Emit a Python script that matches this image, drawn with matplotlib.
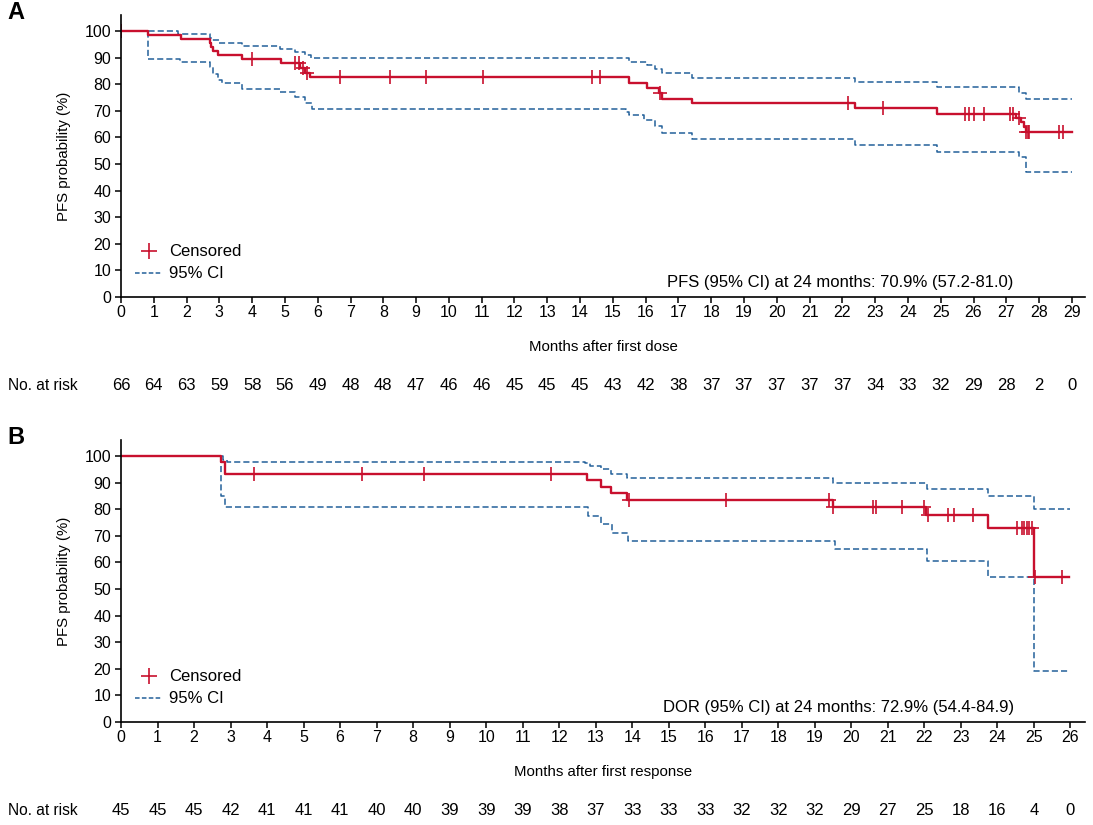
import matplotlib
matplotlib.use("Agg")
import matplotlib.pyplot as plt
from matplotlib.lines import Line2D
import numpy as np

RED = "#C8102E"
BLUE = "#23609A"
plt.rcParams["font.family"] = ["Liberation Sans", "DejaVu Sans"]

# Panel A: PFS after first dose
pfs_t = [0, 0.83, 1.83, 2.72, 2.76, 2.8, 2.97, 3.7, 4.87, 5.45, 5.6, 5.77, 15.5, 16.05,
         16.4, 16.5, 17.4, 22.4, 24.9, 27.3, 27.45, 27.55, 27.6, 29.0]
pfs_s = [100, 98.5, 97.0, 95.5, 93.9, 92.4, 90.9, 89.4, 87.9, 86.0, 84.3, 82.6, 80.5, 78.4,
         76.5, 74.6, 72.8, 70.9, 68.8, 67.2, 65.9, 63.8, 62.2, 62.2]
pfs_hi_t = [0, 1.75, 2.7, 2.78, 3.0, 3.68, 4.85, 5.3, 5.6, 5.8, 15.5, 16.05, 16.3, 16.5,
            17.4, 22.4, 24.9, 27.4, 27.6, 29.0]
pfs_hi_s = [100, 99.0, 97.5, 96.5, 95.5, 94.4, 93.4, 92.2, 90.9, 89.9, 88.3, 87.1, 85.8, 84.2,
            82.4, 81.0, 79.0, 76.8, 74.4, 74.4]
pfs_lo_t = [0, 0.83, 1.8, 2.7, 2.8, 2.95, 3.08, 3.7, 4.85, 5.3, 5.6, 5.83, 15.4, 15.5, 15.95,
            16.3, 16.5, 17.4, 22.4, 24.9, 27.4, 27.6, 29.0]
pfs_lo_s = [100, 89.4, 88.2, 86.6, 83.8, 81.6, 80.4, 78.2, 77.0, 75.0, 72.9, 70.7, 69.7, 68.4,
            66.4, 64.1, 61.8, 59.5, 57.2, 54.5, 52.6, 46.9, 46.9]
pfs_cens = [0, 4.0, 5.31, 5.42, 5.55, 5.68, 6.69, 8.19, 9.31, 11.03, 14.36, 14.6, 16.45,
            22.17, 23.25, 25.73, 25.85, 26.02, 26.33, 27.12, 27.2, 27.4, 27.6, 27.65, 27.7,
            28.6, 28.72]
pfs_risk = [66, 64, 63, 59, 58, 56, 49, 48, 48, 47, 46, 46, 45, 45, 45, 43, 42, 38, 37, 37,
            37, 37, 37, 34, 33, 32, 29, 28, 2, 0]

# Panel B: DOR after first response
dor_t = [0, 2.74, 2.86, 12.77, 13.14, 13.41, 13.87, 19.49, 22.05, 23.74, 25.01, 25.95]
dor_s = [100, 97.7, 93.3, 90.9, 88.4, 85.9, 83.4, 80.9, 77.7, 72.9, 54.6, 54.6]
dor_hi_t = [0, 2.8, 2.9, 12.7, 12.85, 13.15, 13.43, 13.87, 19.51, 22.07, 23.74, 25.0, 26.0]
dor_hi_s = [100, 98.5, 97.7, 97.2, 96.2, 95.0, 93.4, 91.8, 89.7, 87.7, 84.9, 79.9, 79.9]
dor_lo_t = [0, 2.73, 2.86, 12.79, 13.15, 13.45, 13.88, 19.54, 22.08, 23.74, 25.0, 26.0]
dor_lo_s = [100, 84.9, 80.8, 77.4, 74.3, 71.1, 68.0, 65.1, 60.7, 54.4, 19.0, 19.0]
dor_cens = [3.65, 6.6, 8.29, 11.77, 13.91, 16.57, 19.38, 19.49, 20.6, 20.68, 21.38, 21.98,
            22.1, 22.66, 22.8, 23.34, 24.53, 24.67, 24.74, 24.8, 24.88, 24.95, 25.03, 25.76]
dor_risk = [45, 45, 45, 42, 41, 41, 41, 40, 40, 39, 39, 39, 38, 37, 33, 33, 33, 32, 32, 32,
            29, 27, 25, 18, 16, 4, 0]


def level_at(t, s, x):
    """Value of the step curve (post) at times x."""
    idx = np.searchsorted(t, x, side="right") - 1
    return np.asarray(s)[idx]


def draw_panel(ax, t, s, hi_t, hi_s, lo_t, lo_s, cens, risk, xmax, xlabel, note, letter):
    ax.step(hi_t, hi_s, where="post", color=BLUE, lw=1.1, ls=(0, (4, 2)))
    ax.step(lo_t, lo_s, where="post", color=BLUE, lw=1.1, ls=(0, (4, 2)))
    ax.step(t, s, where="post", color=RED, lw=1.7)
    ax.plot(cens, level_at(t, s, cens), ls="none", marker="+", ms=10, mew=1.2, color=RED)

    ax.set_xlim(0, xmax + 0.4)
    ax.set_ylim(0, 106)
    ax.set_xticks(range(0, xmax + 1))
    ax.set_yticks(range(0, 101, 10))
    for side in ("top", "right"):
        ax.spines[side].set_visible(False)
    for side in ("left", "bottom"):
        ax.spines[side].set_linewidth(1.2)
    ax.tick_params(direction="out", length=4, width=1.1, labelsize=11.5, pad=3)
    ax.tick_params(axis="x", pad=2)

    ax.set_xlabel(xlabel, fontsize=10.8, labelpad=14)
    ax.set_ylabel("PFS probability (%)", fontsize=10.8, labelpad=10)

    handles = [
        Line2D([], [], color=RED, marker="+", ls="none", ms=11, mew=1.2),
        Line2D([], [], color=BLUE, lw=1.1, ls=(0, (3, 1.5))),
    ]
    ax.legend(handles, ["Censored", "95% CI"], loc="lower left",
              bbox_to_anchor=(0.0145, 0.055), frameon=False, fontsize=12,
              handlelength=1.65, handletextpad=0.38, labelspacing=0.42,
              borderpad=0, borderaxespad=0)

    ax.text(0.926, 0.052, note, transform=ax.transAxes, ha="right", va="center", fontsize=12)

    # risk table under the axis
    tr = ax.get_xaxis_transform()
    for i, n in enumerate(risk):
        ax.text(i, -0.315, str(n), transform=tr, ha="center", va="center", fontsize=12)
    fig = ax.figure
    pos = ax.get_position()
    y_fig = pos.y0 - 0.315 * pos.height
    fig.text(8 / 1093, y_fig, "No. at risk", ha="left", va="center", fontsize=11.2)
    fig.text(7 / 1093, pos.y1 + 0.003, letter, ha="left", va="center",
             fontsize=17, fontweight="bold")


fig = plt.figure(figsize=(10.93, 8.25), dpi=100)
ax_a = fig.add_axes([121 / 1093, 1 - 297 / 825, 964 / 1093, 282 / 825])
ax_b = fig.add_axes([121 / 1093, 1 - 722 / 825, 964 / 1093, 282 / 825])

draw_panel(ax_a, pfs_t, pfs_s, pfs_hi_t, pfs_hi_s, pfs_lo_t, pfs_lo_s, pfs_cens, pfs_risk,
           29, "Months after first dose", "PFS (95% CI) at 24 months: 70.9% (57.2-81.0)", "A")
draw_panel(ax_b, dor_t, dor_s, dor_hi_t, dor_hi_s, dor_lo_t, dor_lo_s, dor_cens, dor_risk,
           26, "Months after first response", "DOR (95% CI) at 24 months: 72.9% (54.4-84.9)", "B")

fig.savefig("out.png", dpi=100)
